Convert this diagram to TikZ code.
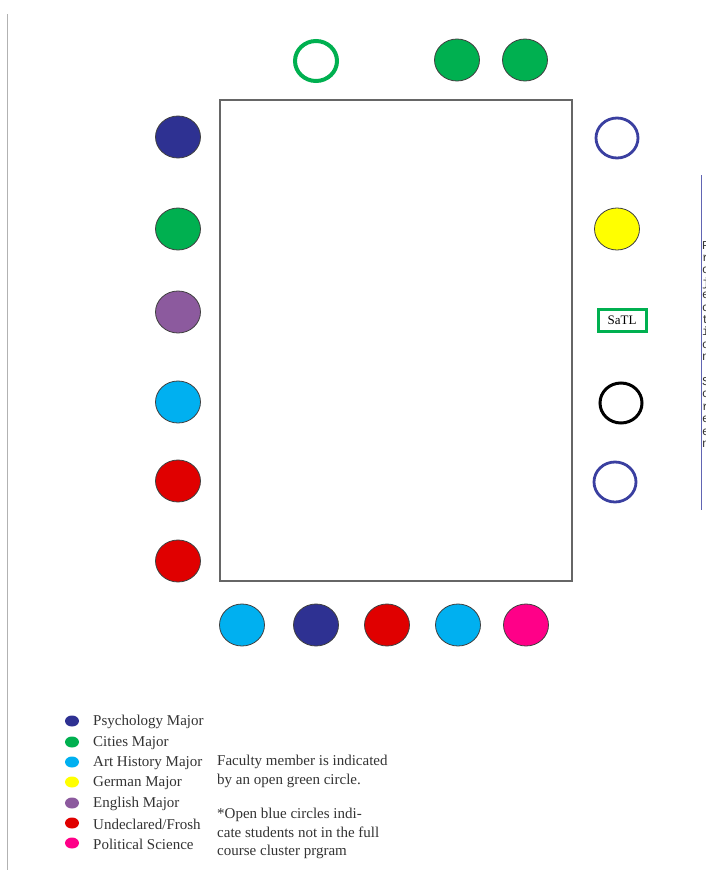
\documentclass[tikz,border=0pt]{standalone}
\usepackage{fontspec}
\usetikzlibrary{shapes.geometric}
\setmainfont{Liberation Serif}
\setmonofont{Liberation Mono}
\definecolor{psych}{HTML}{2E3192}
\definecolor{cities}{HTML}{00B050}
\definecolor{arthist}{HTML}{00B0F0}
\definecolor{german}{HTML}{FFFF00}
\definecolor{english}{HTML}{8C5A9E}
\definecolor{undecl}{HTML}{E00000}
\definecolor{polsci}{HTML}{FF0088}
\definecolor{openblue}{HTML}{3A3FA0}
\begin{document}
\begin{tikzpicture}[x=1pt,y=-1pt,
  seat/.style={ellipse, minimum width=45pt, minimum height=42pt, inner sep=0pt, draw=black!75, line width=0.8pt},
  openseat/.style={ellipse, minimum width=42pt, minimum height=40pt, inner sep=0pt, fill=white},
  dot/.style={ellipse, minimum width=14pt, minimum height=11pt, inner sep=0pt},
  lbl/.style={anchor=west, font=\fontsize{15pt}{16pt}\selectfont, inner sep=0pt, text=black!80},
  note/.style={anchor=north west, font=\fontsize{15pt}{18.5pt}\selectfont, inner sep=0pt, align=left, text=black!80}]
\useasboundingbox (0,0) rectangle (706,870);
\fill[white] (0,0) rectangle (706,870);
% page edge line
\coordinate (pt) at (7,14);
\coordinate (pb) at (7,870);
\draw[black!30, line width=1pt] (pt) -- (pb);
% table
\node[draw=black!60, line width=1.4pt, minimum width=352pt, minimum height=481pt, inner sep=0pt] (table) at (396,340.5) {};
% top
\node[openseat, draw=cities, line width=4pt] (t1) at (316,61) {};
\node[seat, fill=cities] (t2) at (457,60) {};
\node[seat, fill=cities] (t3) at (525,60) {};
% left
\node[seat, fill=psych] (l1) at (178,137) {};
\node[seat, fill=cities] (l2) at (178,229) {};
\node[seat, fill=english] (l3) at (178,312) {};
\node[seat, fill=arthist] (l4) at (178,402) {};
\node[seat, fill=undecl] (l5) at (178,481) {};
\node[seat, fill=undecl] (l6) at (178,561) {};
% right
\node[openseat, draw=openblue, line width=2.8pt] (r1) at (617,138) {};
\node[seat, fill=german] (r2) at (617,229) {};
\node[draw=cities, line width=3pt, minimum width=48pt, minimum height=22pt, inner sep=0pt, font=\fontsize{13pt}{13pt}\selectfont] (satl) at (622,320) {SaTL};
\node[openseat, draw=black, line width=3pt] (r3) at (621,403) {};
\node[openseat, draw=openblue, line width=2.8pt] (r4) at (615,482) {};
% bottom
\node[seat, fill=arthist] (b1) at (242,625) {};
\node[seat, fill=psych] (b2) at (316,625) {};
\node[seat, fill=undecl] (b3) at (387,625) {};
\node[seat, fill=arthist] (b4) at (458,625) {};
\node[seat, fill=polsci] (b5) at (526,625) {};
% projection screen
\coordinate (st) at (701,175);
\coordinate (sb) at (701,510);
\draw[openblue!80, line width=1pt] (st) -- (sb);
\node[anchor=north west, inner sep=0pt, align=left, font=\ttfamily\fontsize{12pt}{12.4pt}\selectfont, text=black!80] (screen) at (702,241) {P\\r\\o\\j\\e\\c\\t\\i\\o\\n\\\mbox{}\\S\\c\\r\\e\\e\\n};
% legend
\node[dot, fill=psych] (d1) at (72,721) {};
\node[dot, fill=cities] (d2) at (72,742) {};
\node[dot, fill=arthist] (d3) at (72,762) {};
\node[dot, fill=german] (d4) at (72,782) {};
\node[dot, fill=english] (d5) at (72,803) {};
\node[dot, fill=undecl] (d6) at (72,823) {};
\node[dot, fill=polsci] (d7) at (72,843) {};
\node[lbl] (g1) at (93,722) {Psychology Major};
\node[lbl] (g2) at (93,743) {Cities Major};
\node[lbl] (g3) at (93,763) {Art History Major};
\node[lbl] (g4) at (93,783) {German Major};
\node[lbl] (g5) at (93,804) {English Major};
\node[lbl] (g6) at (93,824) {Undeclared/Frosh};
\node[lbl] (g7) at (93,844) {Political Science};
\node[note] (n1) at (217,755) {Faculty member is indicated\\by an open green circle.};
\node[note] (n2) at (217,808) {*Open blue circles indi-\\cate students not in the full\\course cluster prgram};
\end{tikzpicture}
\end{document}
